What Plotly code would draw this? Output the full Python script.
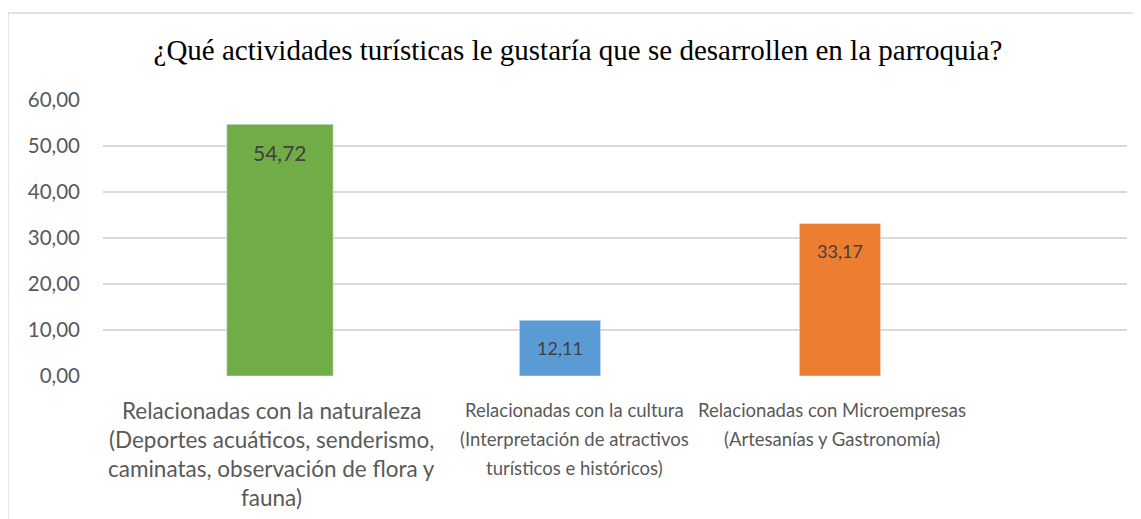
import plotly.graph_objects as go

categories = [
    "Relacionadas con la naturaleza<br>(Deportes acuáticos, senderismo,<br>caminatas, observación de flora y<br>fauna)",
    "Relacionadas con la cultura<br>(Interpretación de atractivos<br>turísticos e históricos)",
    "Relacionadas con Microempresas<br>(Artesanías y Gastronomía)",
]
values = [54.72, 12.11, 33.17]
colors = ["#70AD47", "#5B9BD5", "#ED7D31"]
labels = ["54,72", "12,11", "33,17"]

# the source image is squeezed horizontally on its right part
bar_widths = [0.38, 0.29, 0.29]
text_sizes = [22.5, 18.5, 18.5]
value_sizes = [21, 18, 18]
label_shift = [-8, 15, -8]

fig = go.Figure(go.Bar(x=categories, y=values, marker_color=colors, width=bar_widths))

for i, (c, v, t) in enumerate(zip(categories, values, labels)):
    fig.add_annotation(x=c, y=v, text=t, showarrow=False, yshift=-28,
                       font=dict(family="Lato", size=value_sizes[i], color="#404040"))
    for j, line in enumerate(c.split("<br>")):
        fig.add_annotation(x=c, y=0, text=line, showarrow=False, yanchor="middle",
                           yshift=-34 - 29 * j, xshift=label_shift[i],
                           font=dict(family="Lato", size=text_sizes[i], color="#595959"))

fig.add_shape(type="rect", xref="paper", yref="paper",
              x0=-0.0928, x1=1.05, y0=-0.7, y1=1.315,
              line=dict(color="#d9d9d9", width=1.5), layer="below")

# page has an 8px body margin, so the figure is a bit smaller
fig.update_layout(
    width=1133, height=511,
    margin=dict(l=95, r=14, t=92, b=143, autoexpand=False),
    paper_bgcolor="white", plot_bgcolor="white",
    separators=",.",
    showlegend=False,
    title=dict(text="¿Qué actividades turísticas le gustaría que se desarrollen en la parroquia?",
               x=0.503, xanchor="center", y=0.918, yanchor="middle",
               font=dict(family="Liberation Serif", size=29, color="black")),
    xaxis=dict(range=[-0.632, 3.025], showgrid=False, zeroline=False, showline=False,
               ticks="", showticklabels=False, automargin=False),
    yaxis=dict(range=[0, 60], dtick=10, tickformat=".2f", showgrid=True,
               gridcolor="#d9d9d9", gridwidth=1.5, zeroline=False, showline=False,
               ticks="", ticklabelstandoff=22, automargin=False,
               tickfont=dict(family="Lato", size=20.5, color="#595959")),
)

fig.write_html("out.html")
